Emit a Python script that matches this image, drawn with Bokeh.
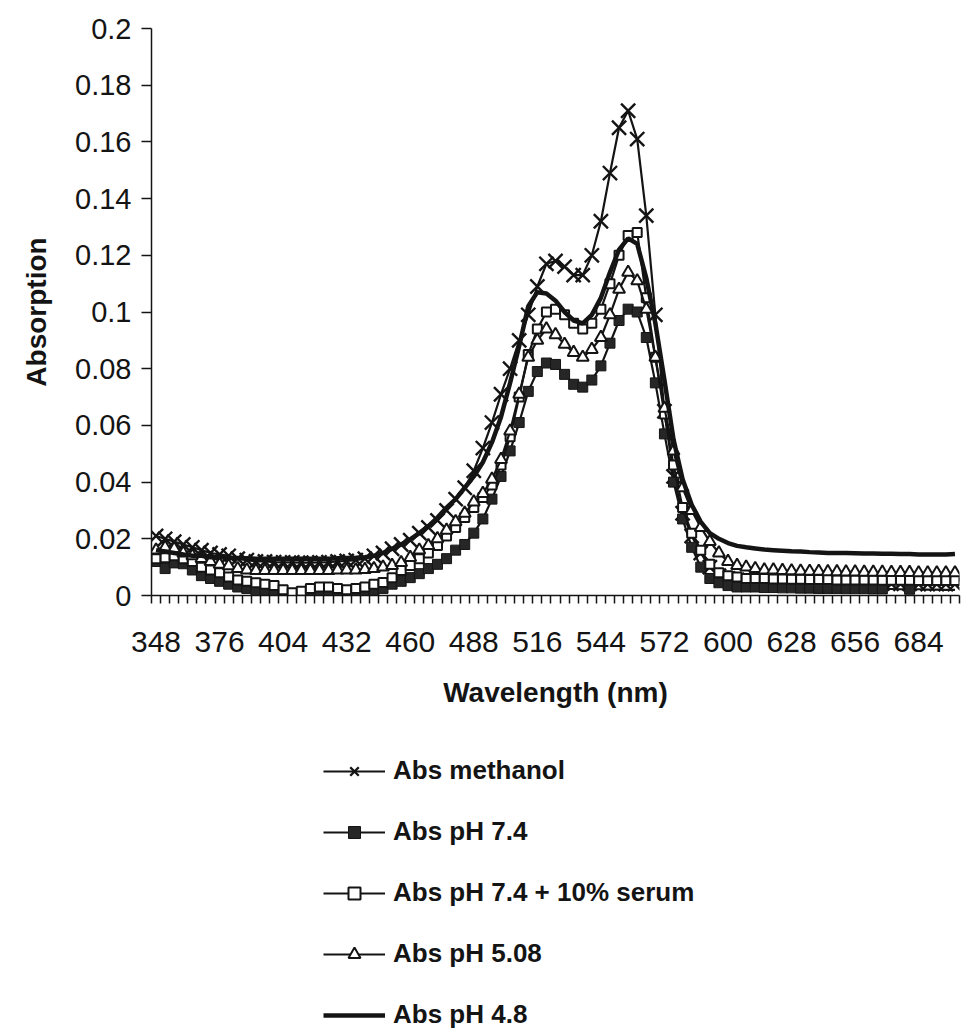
from bokeh.plotting import figure
from bokeh.layouts import column
from bokeh.models import Range1d, FixedTicker, Legend, LegendItem, ColumnDataSource, NumeralTickFormatter
from bokeh.embed import file_html
from bokeh.resources import INLINE

# Categories (nm), step 4
wavelength = list(range(348, 701, 4))
x_tick_labels = list(range(348, 685, 28))
y_ticks = [0, 0.02, 0.04, 0.06, 0.08, 0.1, 0.12, 0.14, 0.16, 0.18, 0.2]
series_names = ["Abs methanol", "Abs pH 7.4", "Abs pH 7.4 + 10% serum",
                "Abs pH 5.08", "Abs pH 4.8"]

abs_methanol = [
    0.021, 0.020, 0.019, 0.018, 0.017, 0.016, 0.015, 0.0145,
    0.014, 0.013, 0.0125, 0.012, 0.012, 0.0118, 0.0117, 0.0117,
    0.0116, 0.0116, 0.0117, 0.0118, 0.012, 0.0122, 0.0125, 0.013,
    0.014, 0.015, 0.0165, 0.018, 0.0195, 0.022, 0.024, 0.0265,
    0.030, 0.034, 0.038, 0.044, 0.052, 0.061, 0.071, 0.080,
    0.090, 0.099, 0.109, 0.117, 0.118, 0.116, 0.113, 0.113,
    0.120, 0.132, 0.149, 0.165, 0.171, 0.161, 0.134, 0.099,
    0.065, 0.042, 0.029, 0.021, 0.015, 0.010, 0.007, 0.006,
    0.0055, 0.005, 0.005, 0.0048, 0.0047, 0.0046, 0.0045, 0.0045,
    0.0045, 0.0044, 0.0044, 0.0043, 0.0043, 0.0042, 0.0042, 0.0042,
    0.0042, 0.0041, 0.0041, 0.0041, 0.004, 0.004, 0.004, 0.004, 0.004,
]

abs_ph74 = [
    0.012, 0.0095, 0.0115, 0.0112, 0.009, 0.007, 0.006, 0.005,
    0.004, 0.003, 0.0025, 0.002, 0.001, 0.0005, 0.0003, 0.0002,
    0.0001, 0.0, 0.0, 0.0, 0.0, 0.0, 0.0002, 0.0005,
    0.001, 0.0025, 0.004, 0.005, 0.0063, 0.0077, 0.0095, 0.011,
    0.013, 0.016, 0.018, 0.022, 0.027, 0.034, 0.042, 0.051,
    0.061, 0.072, 0.079, 0.082, 0.0815, 0.078, 0.0745, 0.0735,
    0.076, 0.081, 0.089, 0.097, 0.101, 0.100, 0.091, 0.075,
    0.057, 0.040, 0.027, 0.017, 0.010, 0.006, 0.0045, 0.0035,
    0.003, 0.003, 0.003, 0.0028, 0.0028, 0.0027, 0.0027, 0.0026,
    0.0026, 0.0025, 0.0025, 0.0025, 0.0024, 0.0024, 0.0024, 0.0023,
    0.0023, 0.0023, 0.0022, 0.0022, 0.0022, 0.0021, 0.0021, 0.002, 0.002,
]
# wavelengths where the pH 7.4 markers are missing in the original
abs_ph74_no_marker = [672, 676, 684, 688, 692, 696, 700]

abs_ph74_serum = [
    0.013, 0.0133, 0.014, 0.013, 0.012, 0.010, 0.009, 0.008,
    0.0065, 0.0055, 0.005, 0.0045, 0.004, 0.0035, 0.002, 0.001,
    0.0015, 0.0025, 0.003, 0.003, 0.0025, 0.002, 0.0025, 0.003,
    0.004, 0.0046, 0.0063, 0.0088, 0.0106, 0.013, 0.015, 0.0176,
    0.021, 0.024, 0.0275, 0.031, 0.0346, 0.039, 0.046, 0.056,
    0.070, 0.085, 0.094, 0.100, 0.101, 0.099, 0.096, 0.094,
    0.096, 0.101, 0.110, 0.120, 0.127, 0.128, 0.105, 0.084,
    0.064, 0.046, 0.031, 0.022, 0.016, 0.011, 0.008, 0.007,
    0.0065, 0.006, 0.006, 0.006, 0.0058, 0.0058, 0.0057, 0.0057,
    0.0056, 0.0056, 0.0056, 0.0055, 0.0055, 0.0055, 0.0055, 0.0055,
    0.0054, 0.0054, 0.0054, 0.0054, 0.0053, 0.0053, 0.0053, 0.0053, 0.0053,
]

abs_ph508 = [
    0.016, 0.017, 0.0165, 0.015, 0.014, 0.013, 0.012, 0.011,
    0.0105, 0.0095, 0.009, 0.0088, 0.0088, 0.0088, 0.0088, 0.0088,
    0.0088, 0.0088, 0.0088, 0.0088, 0.009, 0.009, 0.009, 0.0092,
    0.0095, 0.010, 0.0106, 0.0116, 0.0134, 0.016, 0.0176, 0.020,
    0.023, 0.026, 0.029, 0.033, 0.036, 0.041, 0.048, 0.058,
    0.071, 0.084, 0.090, 0.094, 0.092, 0.0886, 0.0857, 0.084,
    0.0868, 0.091, 0.099, 0.108, 0.114, 0.111, 0.101, 0.084,
    0.066, 0.051, 0.038, 0.030, 0.024, 0.019, 0.015, 0.012,
    0.0106, 0.010, 0.0095, 0.009, 0.009, 0.0088, 0.0087, 0.0086,
    0.0085, 0.0085, 0.0084, 0.0084, 0.0083, 0.0083, 0.0082, 0.0082,
    0.0082, 0.0081, 0.0081, 0.0081, 0.008, 0.008, 0.008, 0.008, 0.008,
]

abs_ph48 = [
    0.016, 0.0155, 0.015, 0.0145, 0.014, 0.014, 0.0135, 0.0135,
    0.0133, 0.0132, 0.0131, 0.013, 0.013, 0.013, 0.013, 0.013,
    0.013, 0.013, 0.013, 0.013, 0.0131, 0.0132, 0.0133, 0.0135,
    0.014, 0.015, 0.0165, 0.018, 0.0198, 0.022, 0.0245, 0.0275,
    0.031, 0.034, 0.038, 0.042, 0.047, 0.054, 0.063, 0.075,
    0.088, 0.102, 0.107, 0.1065, 0.104, 0.100, 0.097, 0.096,
    0.099, 0.105, 0.114, 0.122, 0.126, 0.124, 0.112, 0.096,
    0.076, 0.055, 0.041, 0.032, 0.026, 0.022, 0.020, 0.0185,
    0.0175, 0.017, 0.0166, 0.0162, 0.016, 0.0158, 0.0156, 0.0155,
    0.0153, 0.0152, 0.015, 0.015, 0.015, 0.0149, 0.0148, 0.0148,
    0.0147, 0.0147, 0.0146, 0.0146, 0.0145, 0.0145, 0.0145, 0.0145, 0.0146,
]

INK = "#141414"
FONT = "Liberation Sans"

STYLE = [
    dict(line_width=2.2, marker=dict(marker="x", size=20, line_color=INK, line_width=2.4)),
    dict(line_width=2.2, marker=dict(marker="square", size=10, fill_color="#262626",
                                     line_color=INK, line_width=1)),
    dict(line_width=2.2, marker=dict(marker="square", size=9, fill_color="white",
                                     line_color=INK, line_width=2)),
    dict(line_width=2.2, marker=dict(marker="triangle", size=12, fill_color="white",
                                     line_color=INK, line_width=2)),
    dict(line_width=4.5, marker=None),
]

p = figure(width=962, height=755, output_backend="svg", toolbar_location=None,
           x_range=Range1d(346, 702), y_range=Range1d(0, 0.2),
           min_border_left=151, min_border_right=3, min_border_top=28,
           min_border_bottom=160)
p.grid.visible = False
p.outline_line_color = None

src = ColumnDataSource(dict(x=wavelength, s0=abs_methanol, s1=abs_ph74,
                            s2=abs_ph74_serum, s3=abs_ph508, s4=abs_ph48))
mk74 = [(w, v) for w, v in zip(wavelength, abs_ph74) if w not in abs_ph74_no_marker]
src74 = ColumnDataSource(dict(x=[w for w, _ in mk74], s1=[v for _, v in mk74]))

for i, st in enumerate(STYLE):
    col = "s%d" % i
    p.line("x", col, source=src, line_color=INK, line_width=st["line_width"])
    if st["marker"] is not None:
        p.scatter("x", col, source=(src74 if i == 1 else src), **st["marker"])

# Y axis
ya = p.yaxis[0]
ya.ticker = FixedTicker(ticks=y_ticks, minor_ticks=[])
ya.formatter = NumeralTickFormatter(format="0.[00]")
ya.axis_line_color = INK
ya.axis_line_width = 1.5
ya.major_tick_out = 10
ya.major_tick_in = 0
ya.major_tick_line_width = 1.5
ya.major_tick_line_color = INK
ya.major_label_standoff = 10
ya.major_label_text_font = FONT
ya.major_label_text_font_size = "29px"
ya.major_label_text_color = INK
ya.axis_label = "Absorption"
ya.axis_label_text_font = FONT
ya.axis_label_text_font_size = "28px"
ya.axis_label_text_font_style = "bold"
ya.axis_label_text_color = INK
ya.axis_label_standoff = 20

# X axis
xa = p.xaxis[0]
xa.ticker = FixedTicker(ticks=x_tick_labels,
                        minor_ticks=[346 + 4 * k for k in range(90)])
xa.axis_line_color = INK
xa.axis_line_width = 1.5
xa.major_tick_out = 0
xa.major_tick_in = 0
xa.major_tick_line_color = None
xa.minor_tick_out = 8
xa.minor_tick_in = 0
xa.minor_tick_line_width = 1.5
xa.minor_tick_line_color = INK
xa.major_label_standoff = 28
xa.major_label_text_font = FONT
xa.major_label_text_font_size = "30px"
xa.major_label_text_color = INK
xa.axis_label = "Wavelength (nm)"
xa.axis_label_text_font = FONT
xa.axis_label_text_font_size = "28px"
xa.axis_label_text_font_style = "bold"
xa.axis_label_text_color = INK
xa.axis_label_standoff = 22

# Legend panel: a separate figure below; its renderers use the same data
# but its ranges keep them out of view, so only the legend samples show.
lf = figure(width=962, height=275, output_backend="svg", toolbar_location=None,
            x_axis_type=None, y_axis_type=None, min_border=0,
            x_range=Range1d(0, 1), y_range=Range1d(0, 1))
lf.grid.visible = False
lf.outline_line_color = None
items = []
for i, (name, st) in enumerate(zip(series_names, STYLE)):
    col = "s%d" % i
    rs = [lf.line("x", col, source=src, line_color=INK, line_width=st["line_width"])]
    if st["marker"] is not None:
        rs.append(lf.scatter("x", col, source=src, **st["marker"]))
    items.append(LegendItem(label=name, renderers=rs))

legend = Legend(items=items, location=(172, 0))
legend.padding = 0
legend.margin = 0
legend.spacing = 30
legend.glyph_height = 30
legend.glyph_width = 62
legend.label_height = 30
legend.label_standoff = 8
legend.label_text_font = FONT
legend.label_text_font_size = "26px"
legend.label_text_font_style = "bold"
legend.label_text_color = INK
legend.border_line_color = None
legend.background_fill_alpha = 0
lf.add_layout(legend)

layout = column(p, lf, spacing=0)
open("out.html", "w").write(file_html(layout, INLINE))
